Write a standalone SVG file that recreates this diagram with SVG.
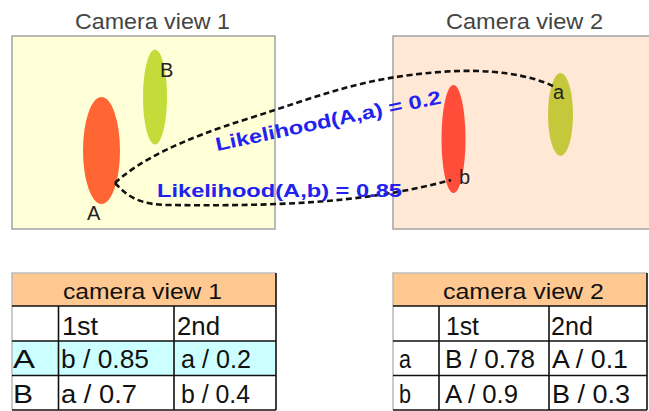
<svg xmlns="http://www.w3.org/2000/svg" width="649" height="411" viewBox="0 0 649 411">
  <style>
    .title { font-family: "Liberation Sans", Arial, sans-serif; font-size: 22px; fill: #444444; text-anchor: start; }
    .mark { font-family: "Liberation Sans", Arial, sans-serif; font-size: 20px; fill: #222222; }
    .lk { font-family: "Liberation Sans", Arial, sans-serif; font-size: 19px; font-weight: bold; fill: #2222ee; }
    .link { fill: none; stroke: #111111; stroke-width: 2.6; stroke-dasharray: 6 3.5; }
    .th { font-family: "Liberation Sans", Arial, sans-serif; font-size: 22px; fill: #111111; }
    .td { font-family: "Liberation Sans", Arial, sans-serif; font-size: 25px; fill: #111111; }
    .grid { stroke: #111111; stroke-width: 1.6; fill: none; }
    .edge { stroke: #bdbdbd; stroke-width: 1.6; fill: none; }
  </style>

  <!-- camera view 1 -->
  <g id="view1">
    <text class="title" x="75" y="28.5" textLength="155" lengthAdjust="spacingAndGlyphs">Camera view 1</text>
    <rect x="12" y="36" width="263" height="193" fill="#ffffd8" stroke="#a8a8a8" stroke-width="1.6"/>
  </g>
  <g id="personA">
    <ellipse cx="101.5" cy="150.5" rx="18.5" ry="53.5" fill="#ff6633"/>
    <text class="mark" x="87" y="219.5">A</text>
  </g>
  <g id="personB">
    <ellipse cx="155" cy="97" rx="12" ry="47.5" fill="#c3dc3a"/>
    <text class="mark" x="160" y="76.5">B</text>
  </g>

  <!-- camera view 2 -->
  <g id="view2">
    <text class="title" x="446" y="28.5" textLength="157" lengthAdjust="spacingAndGlyphs">Camera view 2</text>
    <rect x="393" y="36" width="262" height="193" fill="#ffe8d5" stroke="#a8a8a8" stroke-width="1.6"/>
  </g>
  <g id="personb">
    <ellipse cx="453.5" cy="139" rx="12" ry="54" fill="#ff4d3a"/>
    <text class="mark" x="459" y="183.5">b</text>
  </g>
  <g id="persona">
    <ellipse cx="560.5" cy="114.5" rx="12.5" ry="41.5" fill="#c4c83a"/>
    <text class="mark" x="553" y="98.5">a</text>
  </g>

  <!-- matching links -->
  <g id="links">
    <path class="link" d="M115,183 C140,160 180,140 250,118 C320,96 360,78 440,72 C490,68 530,75 553,86"/>
    <path class="link" d="M115,183 C128,197 140,205 170,205 C260,206 360,205 451,180"/>
    <text class="lk" transform="translate(217,151) rotate(-12)" textLength="230" lengthAdjust="spacingAndGlyphs">Likelihood(A,a) = 0.2</text>
    <text class="lk" x="157" y="197" textLength="245" lengthAdjust="spacingAndGlyphs">Likelihood(A,b) = 0.85</text>
  </g>

  <!-- ranking table for camera view 1 -->
  <g id="table1">
    <rect x="12" y="273" width="264" height="33" fill="#ffc890"/>
    <rect x="12" y="306" width="264" height="35" fill="#ffffff"/>
    <rect x="12" y="341" width="264" height="34.5" fill="#ccffff"/>
    <rect x="12" y="375.5" width="264" height="34.5" fill="#ffffff"/>
    <path class="edge" d="M12,410 V273 H276"/>
    <path class="grid" d="M12,306 H276 M12,341 H276 M12,375.5 H276 M12,410 H276 M58.5,306 V410 M174,306 V410 M276,273 V410"/>
    <text class="th" x="63" y="298.5" textLength="159" lengthAdjust="spacingAndGlyphs">camera view 1</text>
    <text class="td" x="62" y="335" textLength="36" lengthAdjust="spacingAndGlyphs">1st</text>
    <text class="td" x="177" y="335" textLength="43" lengthAdjust="spacingAndGlyphs">2nd</text>
    <text class="td" x="13" y="368" textLength="22" lengthAdjust="spacingAndGlyphs">A</text>
    <text class="td" x="61" y="368" textLength="88" lengthAdjust="spacingAndGlyphs">b / 0.85</text>
    <text class="td" x="181" y="368" textLength="70" lengthAdjust="spacingAndGlyphs">a / 0.2</text>
    <text class="td" x="13" y="403" textLength="20" lengthAdjust="spacingAndGlyphs">B</text>
    <text class="td" x="61" y="403" textLength="76" lengthAdjust="spacingAndGlyphs">a / 0.7</text>
    <text class="td" x="181" y="403" textLength="69" lengthAdjust="spacingAndGlyphs">b / 0.4</text>
  </g>

  <!-- ranking table for camera view 2 -->
  <g id="table2">
    <rect x="393" y="273" width="254" height="33" fill="#ffc890"/>
    <rect x="393" y="306" width="254" height="104" fill="#ffffff"/>
    <path class="edge" d="M393,410 V273 H647"/>
    <path class="grid" d="M393,306 H647 M393,341 H647 M393,375.5 H647 M393,410 H647 M439,306 V410 M549,306 V410 M647,273 V410"/>
    <text class="th" x="443" y="298.5" textLength="161" lengthAdjust="spacingAndGlyphs">camera view 2</text>
    <text class="td" x="446" y="335" textLength="33" lengthAdjust="spacingAndGlyphs">1st</text>
    <text class="td" x="551" y="335" textLength="42" lengthAdjust="spacingAndGlyphs">2nd</text>
    <text class="td" x="399" y="368" textLength="12" lengthAdjust="spacingAndGlyphs">a</text>
    <text class="td" x="445" y="368" textLength="90" lengthAdjust="spacingAndGlyphs">B / 0.78</text>
    <text class="td" x="552" y="368" textLength="76" lengthAdjust="spacingAndGlyphs">A / 0.1</text>
    <text class="td" x="399" y="403" textLength="12" lengthAdjust="spacingAndGlyphs">b</text>
    <text class="td" x="445" y="403" textLength="73" lengthAdjust="spacingAndGlyphs">A / 0.9</text>
    <text class="td" x="552" y="403" textLength="78" lengthAdjust="spacingAndGlyphs">B / 0.3</text>
  </g>
</svg>
